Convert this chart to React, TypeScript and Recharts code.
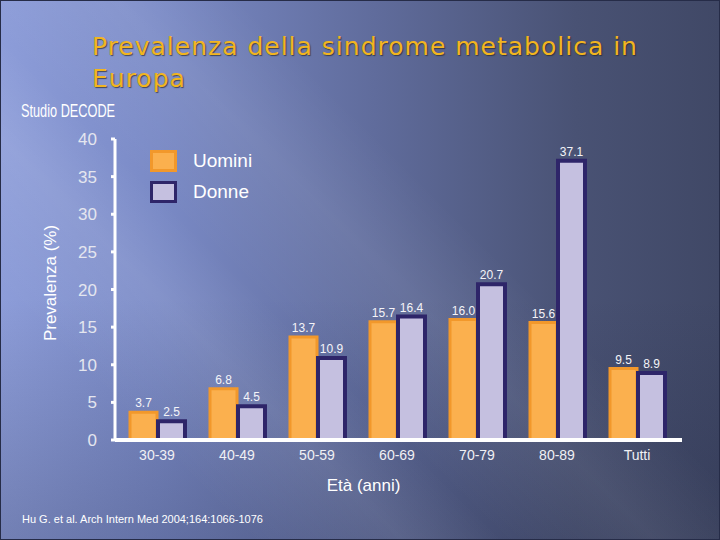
import React from 'react';
import { BarChart, Bar, XAxis, YAxis, LabelList, Legend, Label } from 'recharts';

const categories = ['30-39', '40-49', '50-59', '60-69', '70-79', '80-89', 'Tutti'];
const uomini = [3.7, 6.8, 13.7, 15.7, 16.0, 15.6, 9.5];
const donne = [2.5, 4.5, 10.9, 16.4, 20.7, 37.1, 8.9];
const yTicks = [0, 5, 10, 15, 20, 25, 30, 35, 40];

const data = categories.map((age, i) => ({ age, uomini: uomini[i], donne: donne[i] }));

const ARIAL = "'Liberation Sans', Arial, sans-serif";

const ORANGE_FILL = '#FBB04E';
const ORANGE_STROKE = '#F2982B';
const LILAC_FILL = '#C5C0E0';
const LILAC_STROKE = '#2E2569';

const legendItems = [
  { label: 'Uomini', fill: ORANGE_FILL, stroke: ORANGE_STROKE },
  { label: 'Donne', fill: LILAC_FILL, stroke: LILAC_STROKE },
];

const renderLegend = () => (
  <div style={{ display: 'flex', flexDirection: 'column', gap: 8 }}>
    {legendItems.map((item) => (
      <div key={item.label} style={{ display: 'flex', alignItems: 'center', height: 23 }}>
        <div
          style={{
            width: 21,
            height: 16,
            background: item.fill,
            border: `3px solid ${item.stroke}`,
            marginRight: 16,
          }}
        />
        <span style={{ color: '#fff', fontFamily: ARIAL, fontSize: 19 }}>{item.label}</span>
      </div>
    ))}
  </div>
);

const fmt = (v: any) => Number(v).toFixed(1);

const App = () => {
  return (
    <div
      style={{
        position: 'absolute',
        left: 0,
        top: 0,
        width: 720,
        height: 540,
        overflow: 'hidden',
        boxShadow: 'inset 0 0 0 1px #262c48',
        background:
          'linear-gradient(45deg, rgba(255,255,255,0) 20%, rgba(255,255,255,0.08) 32%, rgba(255,255,255,0) 40%, rgba(255,255,255,0.07) 52%, rgba(255,255,255,0) 62%),' +
          'linear-gradient(to bottom, rgba(20,25,50,0) 55%, rgba(20,25,50,0.22) 100%),' +
          'linear-gradient(to right, #8D9DD9 0%, #7A8AC6 22%, #606C9C 52%, #495274 80%, #404866 100%)',
      }}
    >
      <div
        style={{
          position: 'absolute',
          left: 92,
          top: 31,
          width: 620,
          fontFamily: "'DejaVu Sans', sans-serif",
          fontSize: 25,
          letterSpacing: 1,
          lineHeight: '32px',
          color: '#F2B51F',
          textShadow: '1px 1px 1px rgba(40,40,40,0.7)',
        }}
      >
        Prevalenza della sindrome metabolica in
        <br />
        Europa
      </div>
      <div
        style={{
          position: 'absolute',
          left: 21,
          top: 100,
          fontFamily: ARIAL,
          fontSize: 19,
          color: '#fff',
          transform: 'scaleX(0.67)',
          transformOrigin: 'left top',
          whiteSpace: 'nowrap',
        }}
      >
        Studio DECODE
      </div>
      <div
        style={{
          position: 'absolute',
          left: 22,
          top: 513,
          fontFamily: ARIAL,
          fontSize: 11,
          color: '#fff',
        }}
      >
        Hu G. et al. Arch Intern Med 2004;164:1066-1076
      </div>

      <BarChart
        width={720}
        height={540}
        data={data}
        margin={{ top: 139, right: 38, bottom: 70, left: 0 }}
        barSize={27}
        barGap={1}
        style={{ position: 'absolute', left: 0, top: 0 }}
      >
        <XAxis
          dataKey="age"
          padding={{ left: 2, right: 5 }}
          axisLine={{ stroke: '#fff', strokeWidth: 4 }}
          tickLine={false}
          tickSize={0}
          tickMargin={10}
          interval={0}
          tick={{ fill: '#F0F0F4', fontSize: 14, fontFamily: ARIAL }}
        >
          <Label
            value="Età (anni)"
            position="bottom"
            offset={9}
            dx={-35}
            fill="#fff"
            fontSize={17}
            fontFamily={ARIAL}
          />
        </XAxis>
        <YAxis
          width={115}
          domain={[0, 40]}
          ticks={yTicks}
          interval={0}
          axisLine={{ stroke: '#fff', strokeWidth: 3 }}
          tickLine={{ stroke: '#fff', strokeWidth: 3 }}
          tickSize={4}
          tickMargin={14}
          tick={{ fill: '#E4E6EF', fontSize: 17, fontFamily: ARIAL }}
        >
          <Label
            content={() => (
              <text
                x={50}
                y={283}
                transform="rotate(-90 50 283)"
                textAnchor="middle"
                dominantBaseline="central"
                fill="#fff"
                fontSize={17}
                fontFamily={ARIAL}
              >
                Prevalenza (%)
              </text>
            )}
          />
        </YAxis>
        <Legend
          layout="vertical"
          align="center"
          verticalAlign="middle"
          content={renderLegend}
          wrapperStyle={{ left: 150, top: 149, width: 'auto', height: 'auto' }}
        />
        <Bar
          dataKey="uomini"
          name="Uomini"
          fill={ORANGE_FILL}
          stroke={ORANGE_STROKE}
          strokeWidth={3}
          isAnimationActive={false}
        >
          <LabelList
            dataKey="uomini"
            position="top"
            offset={5}
            formatter={fmt}
            fill="#F4F4F8"
            fontSize={12}
            fontFamily={ARIAL}
          />
        </Bar>
        <Bar
          dataKey="donne"
          name="Donne"
          fill={LILAC_FILL}
          stroke={LILAC_STROKE}
          strokeWidth={4}
          isAnimationActive={false}
        >
          <LabelList
            dataKey="donne"
            position="top"
            offset={5}
            formatter={fmt}
            fill="#F4F4F8"
            fontSize={12}
            fontFamily={ARIAL}
          />
        </Bar>
      </BarChart>
    </div>
  );
};

export default App;
